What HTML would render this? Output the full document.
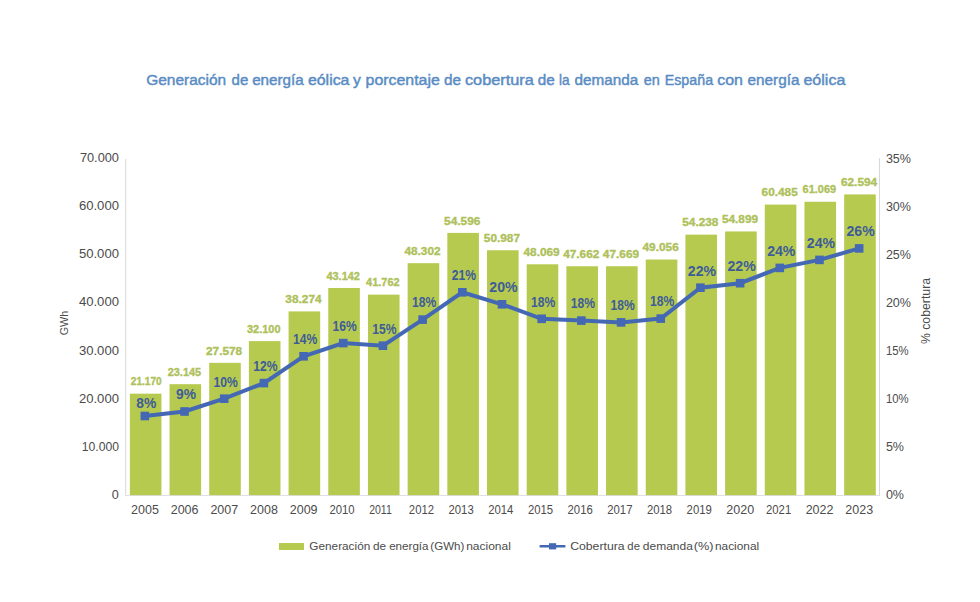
<!DOCTYPE html>
<html><head><meta charset="utf-8"><style>
html,body{margin:0;padding:0;background:#fff;width:980px;height:602px;overflow:hidden}
svg{display:block;font-family:"Liberation Sans", sans-serif}
</style></head><body>
<svg width="980" height="602" viewBox="0 0 980 602">
<rect x="129.84" y="393.67" width="31.60" height="101.83" fill="#b7ca50"/>
<rect x="169.53" y="384.17" width="31.60" height="111.33" fill="#b7ca50"/>
<rect x="209.21" y="362.85" width="31.60" height="132.65" fill="#b7ca50"/>
<rect x="248.89" y="341.10" width="31.60" height="154.40" fill="#b7ca50"/>
<rect x="288.58" y="311.40" width="31.60" height="184.10" fill="#b7ca50"/>
<rect x="328.26" y="287.99" width="31.60" height="207.51" fill="#b7ca50"/>
<rect x="367.95" y="294.62" width="31.60" height="200.88" fill="#b7ca50"/>
<rect x="407.63" y="263.17" width="31.60" height="232.33" fill="#b7ca50"/>
<rect x="447.32" y="232.89" width="31.60" height="262.61" fill="#b7ca50"/>
<rect x="487.00" y="250.25" width="31.60" height="245.25" fill="#b7ca50"/>
<rect x="526.68" y="264.29" width="31.60" height="231.21" fill="#b7ca50"/>
<rect x="566.37" y="266.25" width="31.60" height="229.25" fill="#b7ca50"/>
<rect x="606.05" y="266.21" width="31.60" height="229.29" fill="#b7ca50"/>
<rect x="645.74" y="259.54" width="31.60" height="235.96" fill="#b7ca50"/>
<rect x="685.42" y="234.62" width="31.60" height="260.88" fill="#b7ca50"/>
<rect x="725.11" y="231.44" width="31.60" height="264.06" fill="#b7ca50"/>
<rect x="764.79" y="204.57" width="31.60" height="290.93" fill="#b7ca50"/>
<rect x="804.47" y="201.76" width="31.60" height="293.74" fill="#b7ca50"/>
<rect x="844.16" y="194.42" width="31.60" height="301.08" fill="#b7ca50"/>
<rect x="125.2" y="159" width="1" height="336.5" fill="#d8d8d8"/>
<rect x="879" y="158" width="1" height="337.5" fill="#d8d8d8"/>
<rect x="125.2" y="495" width="754.8" height="1" fill="#d8d8d8" opacity="0.8"/>
<polyline points="144.84,416.00 184.53,411.50 224.21,398.70 263.89,383.10 303.58,356.30 343.26,343.10 382.95,345.70 422.63,319.60 462.32,292.30 502.00,304.30 541.68,318.80 581.37,320.60 621.05,322.40 660.74,318.60 700.42,287.70 740.11,283.20 779.79,267.90 819.47,259.90 859.16,248.40" fill="none" stroke="#4468b4" stroke-width="4" stroke-linejoin="miter"/>
<rect x="140.54" y="411.70" width="8.6" height="8.6" fill="#4468b4"/>
<rect x="180.23" y="407.20" width="8.6" height="8.6" fill="#4468b4"/>
<rect x="219.91" y="394.40" width="8.6" height="8.6" fill="#4468b4"/>
<rect x="259.59" y="378.80" width="8.6" height="8.6" fill="#4468b4"/>
<rect x="299.28" y="352.00" width="8.6" height="8.6" fill="#4468b4"/>
<rect x="338.96" y="338.80" width="8.6" height="8.6" fill="#4468b4"/>
<rect x="378.65" y="341.40" width="8.6" height="8.6" fill="#4468b4"/>
<rect x="418.33" y="315.30" width="8.6" height="8.6" fill="#4468b4"/>
<rect x="458.02" y="288.00" width="8.6" height="8.6" fill="#4468b4"/>
<rect x="497.70" y="300.00" width="8.6" height="8.6" fill="#4468b4"/>
<rect x="537.38" y="314.50" width="8.6" height="8.6" fill="#4468b4"/>
<rect x="577.07" y="316.30" width="8.6" height="8.6" fill="#4468b4"/>
<rect x="616.75" y="318.10" width="8.6" height="8.6" fill="#4468b4"/>
<rect x="656.44" y="314.30" width="8.6" height="8.6" fill="#4468b4"/>
<rect x="696.12" y="283.40" width="8.6" height="8.6" fill="#4468b4"/>
<rect x="735.81" y="278.90" width="8.6" height="8.6" fill="#4468b4"/>
<rect x="775.49" y="263.60" width="8.6" height="8.6" fill="#4468b4"/>
<rect x="815.17" y="255.60" width="8.6" height="8.6" fill="#4468b4"/>
<rect x="854.86" y="244.10" width="8.6" height="8.6" fill="#4468b4"/>
<text x="146.24" y="385.37" text-anchor="middle" font-size="11.4" font-weight="bold" fill="#aec15a" stroke="#aec15a" stroke-width="0.35" textLength="30.8" lengthAdjust="spacingAndGlyphs">21.170</text>
<text x="184.43" y="375.87" text-anchor="middle" font-size="11.4" font-weight="bold" fill="#aec15a" stroke="#aec15a" stroke-width="0.35" textLength="33.5" lengthAdjust="spacingAndGlyphs">23.145</text>
<text x="224.11" y="354.55" text-anchor="middle" font-size="11.4" font-weight="bold" fill="#aec15a" stroke="#aec15a" stroke-width="0.35" textLength="36.2" lengthAdjust="spacingAndGlyphs">27.578</text>
<text x="263.79" y="332.80" text-anchor="middle" font-size="11.4" font-weight="bold" fill="#aec15a" stroke="#aec15a" stroke-width="0.35" textLength="33.5" lengthAdjust="spacingAndGlyphs">32.100</text>
<text x="303.48" y="303.10" text-anchor="middle" font-size="11.4" font-weight="bold" fill="#aec15a" stroke="#aec15a" stroke-width="0.35" textLength="36.2" lengthAdjust="spacingAndGlyphs">38.274</text>
<text x="343.16" y="279.69" text-anchor="middle" font-size="11.4" font-weight="bold" fill="#aec15a" stroke="#aec15a" stroke-width="0.35" textLength="33.5" lengthAdjust="spacingAndGlyphs">43.142</text>
<text x="382.85" y="286.32" text-anchor="middle" font-size="11.4" font-weight="bold" fill="#aec15a" stroke="#aec15a" stroke-width="0.35" textLength="33.5" lengthAdjust="spacingAndGlyphs">41.762</text>
<text x="422.53" y="254.87" text-anchor="middle" font-size="11.4" font-weight="bold" fill="#aec15a" stroke="#aec15a" stroke-width="0.35" textLength="36.2" lengthAdjust="spacingAndGlyphs">48.302</text>
<text x="462.22" y="224.59" text-anchor="middle" font-size="11.4" font-weight="bold" fill="#aec15a" stroke="#aec15a" stroke-width="0.35" textLength="36.2" lengthAdjust="spacingAndGlyphs">54.596</text>
<text x="501.90" y="241.95" text-anchor="middle" font-size="11.4" font-weight="bold" fill="#aec15a" stroke="#aec15a" stroke-width="0.35" textLength="36.2" lengthAdjust="spacingAndGlyphs">50.987</text>
<text x="541.58" y="255.99" text-anchor="middle" font-size="11.4" font-weight="bold" fill="#aec15a" stroke="#aec15a" stroke-width="0.35" textLength="36.2" lengthAdjust="spacingAndGlyphs">48.069</text>
<text x="581.27" y="257.95" text-anchor="middle" font-size="11.4" font-weight="bold" fill="#aec15a" stroke="#aec15a" stroke-width="0.35" textLength="36.2" lengthAdjust="spacingAndGlyphs">47.662</text>
<text x="620.95" y="257.91" text-anchor="middle" font-size="11.4" font-weight="bold" fill="#aec15a" stroke="#aec15a" stroke-width="0.35" textLength="36.2" lengthAdjust="spacingAndGlyphs">47.669</text>
<text x="660.64" y="251.24" text-anchor="middle" font-size="11.4" font-weight="bold" fill="#aec15a" stroke="#aec15a" stroke-width="0.35" textLength="36.2" lengthAdjust="spacingAndGlyphs">49.056</text>
<text x="700.32" y="226.32" text-anchor="middle" font-size="11.4" font-weight="bold" fill="#aec15a" stroke="#aec15a" stroke-width="0.35" textLength="36.2" lengthAdjust="spacingAndGlyphs">54.238</text>
<text x="740.01" y="223.14" text-anchor="middle" font-size="11.4" font-weight="bold" fill="#aec15a" stroke="#aec15a" stroke-width="0.35" textLength="36.2" lengthAdjust="spacingAndGlyphs">54.899</text>
<text x="779.69" y="196.27" text-anchor="middle" font-size="11.4" font-weight="bold" fill="#aec15a" stroke="#aec15a" stroke-width="0.35" textLength="36.2" lengthAdjust="spacingAndGlyphs">60.485</text>
<text x="819.37" y="193.46" text-anchor="middle" font-size="11.4" font-weight="bold" fill="#aec15a" stroke="#aec15a" stroke-width="0.35" textLength="33.5" lengthAdjust="spacingAndGlyphs">61.069</text>
<text x="859.06" y="186.12" text-anchor="middle" font-size="11.4" font-weight="bold" fill="#aec15a" stroke="#aec15a" stroke-width="0.35" textLength="36.2" lengthAdjust="spacingAndGlyphs">62.594</text>
<text x="146.34" y="407.90" text-anchor="middle" font-size="14.3" font-weight="bold" fill="#3d5c98" textLength="20.0" lengthAdjust="spacingAndGlyphs">8%</text>
<text x="186.03" y="399.30" text-anchor="middle" font-size="14.3" font-weight="bold" fill="#3d5c98" textLength="20.0" lengthAdjust="spacingAndGlyphs">9%</text>
<text x="225.71" y="386.50" text-anchor="middle" font-size="14.3" font-weight="bold" fill="#3d5c98" textLength="24.3" lengthAdjust="spacingAndGlyphs">10%</text>
<text x="265.39" y="370.90" text-anchor="middle" font-size="14.3" font-weight="bold" fill="#3d5c98" textLength="24.3" lengthAdjust="spacingAndGlyphs">12%</text>
<text x="305.08" y="344.10" text-anchor="middle" font-size="14.3" font-weight="bold" fill="#3d5c98" textLength="24.3" lengthAdjust="spacingAndGlyphs">14%</text>
<text x="344.76" y="330.90" text-anchor="middle" font-size="14.3" font-weight="bold" fill="#3d5c98" textLength="24.3" lengthAdjust="spacingAndGlyphs">16%</text>
<text x="384.45" y="333.50" text-anchor="middle" font-size="14.3" font-weight="bold" fill="#3d5c98" textLength="24.3" lengthAdjust="spacingAndGlyphs">15%</text>
<text x="424.13" y="307.40" text-anchor="middle" font-size="14.3" font-weight="bold" fill="#3d5c98" textLength="24.3" lengthAdjust="spacingAndGlyphs">18%</text>
<text x="463.82" y="280.10" text-anchor="middle" font-size="14.3" font-weight="bold" fill="#3d5c98" textLength="24.3" lengthAdjust="spacingAndGlyphs">21%</text>
<text x="503.50" y="292.10" text-anchor="middle" font-size="14.3" font-weight="bold" fill="#3d5c98" textLength="28.3" lengthAdjust="spacingAndGlyphs">20%</text>
<text x="543.18" y="306.60" text-anchor="middle" font-size="14.3" font-weight="bold" fill="#3d5c98" textLength="24.3" lengthAdjust="spacingAndGlyphs">18%</text>
<text x="582.87" y="308.40" text-anchor="middle" font-size="14.3" font-weight="bold" fill="#3d5c98" textLength="24.3" lengthAdjust="spacingAndGlyphs">18%</text>
<text x="622.55" y="310.20" text-anchor="middle" font-size="14.3" font-weight="bold" fill="#3d5c98" textLength="24.3" lengthAdjust="spacingAndGlyphs">18%</text>
<text x="662.24" y="306.40" text-anchor="middle" font-size="14.3" font-weight="bold" fill="#3d5c98" textLength="24.3" lengthAdjust="spacingAndGlyphs">18%</text>
<text x="701.92" y="275.50" text-anchor="middle" font-size="14.3" font-weight="bold" fill="#3d5c98" textLength="28.3" lengthAdjust="spacingAndGlyphs">22%</text>
<text x="741.61" y="271.00" text-anchor="middle" font-size="14.3" font-weight="bold" fill="#3d5c98" textLength="28.3" lengthAdjust="spacingAndGlyphs">22%</text>
<text x="781.29" y="255.70" text-anchor="middle" font-size="14.3" font-weight="bold" fill="#3d5c98" textLength="28.3" lengthAdjust="spacingAndGlyphs">24%</text>
<text x="820.97" y="247.70" text-anchor="middle" font-size="14.3" font-weight="bold" fill="#3d5c98" textLength="28.3" lengthAdjust="spacingAndGlyphs">24%</text>
<text x="860.66" y="236.20" text-anchor="middle" font-size="14.3" font-weight="bold" fill="#3d5c98" textLength="28.3" lengthAdjust="spacingAndGlyphs">26%</text>
<text x="118.8" y="498.80" text-anchor="end" font-size="12.6" fill="#4b4b4b">0</text>
<text x="119.0" y="450.70" text-anchor="end" font-size="12.3" fill="#4b4b4b" textLength="37.3" lengthAdjust="spacingAndGlyphs">10.000</text>
<text x="119.0" y="402.60" text-anchor="end" font-size="12.3" fill="#4b4b4b" textLength="40.1" lengthAdjust="spacingAndGlyphs">20.000</text>
<text x="119.0" y="354.50" text-anchor="end" font-size="12.3" fill="#4b4b4b" textLength="40.1" lengthAdjust="spacingAndGlyphs">30.000</text>
<text x="119.0" y="306.40" text-anchor="end" font-size="12.3" fill="#4b4b4b" textLength="40.1" lengthAdjust="spacingAndGlyphs">40.000</text>
<text x="119.0" y="258.30" text-anchor="end" font-size="12.3" fill="#4b4b4b" textLength="40.1" lengthAdjust="spacingAndGlyphs">50.000</text>
<text x="119.0" y="210.20" text-anchor="end" font-size="12.3" fill="#4b4b4b" textLength="40.1" lengthAdjust="spacingAndGlyphs">60.000</text>
<text x="119.0" y="162.10" text-anchor="end" font-size="12.3" fill="#4b4b4b" textLength="39.1" lengthAdjust="spacingAndGlyphs">70.000</text>
<text x="885.9" y="498.90" font-size="12.3" fill="#4b4b4b" textLength="18.1" lengthAdjust="spacingAndGlyphs">0%</text>
<text x="885.9" y="450.90" font-size="12.3" fill="#4b4b4b" textLength="18.1" lengthAdjust="spacingAndGlyphs">5%</text>
<text x="885.9" y="402.90" font-size="12.3" fill="#4b4b4b" textLength="22.7" lengthAdjust="spacingAndGlyphs">10%</text>
<text x="885.9" y="354.90" font-size="12.3" fill="#4b4b4b" textLength="22.7" lengthAdjust="spacingAndGlyphs">15%</text>
<text x="885.9" y="306.90" font-size="12.3" fill="#4b4b4b" textLength="25.1" lengthAdjust="spacingAndGlyphs">20%</text>
<text x="885.9" y="258.90" font-size="12.3" fill="#4b4b4b" textLength="25.1" lengthAdjust="spacingAndGlyphs">25%</text>
<text x="885.9" y="210.90" font-size="12.3" fill="#4b4b4b" textLength="25.1" lengthAdjust="spacingAndGlyphs">30%</text>
<text x="885.9" y="162.90" font-size="12.3" fill="#4b4b4b" textLength="25.1" lengthAdjust="spacingAndGlyphs">35%</text>
<text x="144.94" y="514.2" text-anchor="middle" font-size="13.0" fill="#4b4b4b" textLength="27.8" lengthAdjust="spacingAndGlyphs">2005</text>
<text x="184.63" y="514.2" text-anchor="middle" font-size="13.0" fill="#4b4b4b" textLength="27.8" lengthAdjust="spacingAndGlyphs">2006</text>
<text x="224.31" y="514.2" text-anchor="middle" font-size="13.0" fill="#4b4b4b" textLength="27.8" lengthAdjust="spacingAndGlyphs">2007</text>
<text x="263.99" y="514.2" text-anchor="middle" font-size="13.0" fill="#4b4b4b" textLength="27.8" lengthAdjust="spacingAndGlyphs">2008</text>
<text x="303.68" y="514.2" text-anchor="middle" font-size="13.0" fill="#4b4b4b" textLength="27.8" lengthAdjust="spacingAndGlyphs">2009</text>
<text x="342.06" y="514.2" text-anchor="middle" font-size="13.0" fill="#4b4b4b" textLength="25.2" lengthAdjust="spacingAndGlyphs">2010</text>
<text x="380.45" y="514.2" text-anchor="middle" font-size="13.0" fill="#4b4b4b" textLength="22.6" lengthAdjust="spacingAndGlyphs">2011</text>
<text x="421.43" y="514.2" text-anchor="middle" font-size="13.0" fill="#4b4b4b" textLength="25.2" lengthAdjust="spacingAndGlyphs">2012</text>
<text x="461.12" y="514.2" text-anchor="middle" font-size="13.0" fill="#4b4b4b" textLength="25.2" lengthAdjust="spacingAndGlyphs">2013</text>
<text x="500.80" y="514.2" text-anchor="middle" font-size="13.0" fill="#4b4b4b" textLength="25.2" lengthAdjust="spacingAndGlyphs">2014</text>
<text x="540.48" y="514.2" text-anchor="middle" font-size="13.0" fill="#4b4b4b" textLength="25.2" lengthAdjust="spacingAndGlyphs">2015</text>
<text x="580.17" y="514.2" text-anchor="middle" font-size="13.0" fill="#4b4b4b" textLength="25.2" lengthAdjust="spacingAndGlyphs">2016</text>
<text x="619.85" y="514.2" text-anchor="middle" font-size="13.0" fill="#4b4b4b" textLength="25.2" lengthAdjust="spacingAndGlyphs">2017</text>
<text x="659.54" y="514.2" text-anchor="middle" font-size="13.0" fill="#4b4b4b" textLength="25.2" lengthAdjust="spacingAndGlyphs">2018</text>
<text x="699.22" y="514.2" text-anchor="middle" font-size="13.0" fill="#4b4b4b" textLength="25.2" lengthAdjust="spacingAndGlyphs">2019</text>
<text x="740.21" y="514.2" text-anchor="middle" font-size="13.0" fill="#4b4b4b" textLength="27.8" lengthAdjust="spacingAndGlyphs">2020</text>
<text x="778.59" y="514.2" text-anchor="middle" font-size="13.0" fill="#4b4b4b" textLength="25.2" lengthAdjust="spacingAndGlyphs">2021</text>
<text x="819.57" y="514.2" text-anchor="middle" font-size="13.0" fill="#4b4b4b" textLength="27.8" lengthAdjust="spacingAndGlyphs">2022</text>
<text x="859.26" y="514.2" text-anchor="middle" font-size="13.0" fill="#4b4b4b" textLength="27.8" lengthAdjust="spacingAndGlyphs">2023</text>
<text transform="translate(68.3,323) rotate(-90)" text-anchor="middle" font-size="11.5" fill="#4b4b4b" textLength="24.6" lengthAdjust="spacingAndGlyphs">GWh</text>
<text transform="translate(930.0,311) rotate(-90)" text-anchor="middle" font-size="13.6" fill="#4b4b4b" textLength="66.2" lengthAdjust="spacingAndGlyphs">% cobertura</text>
<text x="146.15" y="84.8" font-size="15.2" fill="#5a8cc3" stroke="#5a8cc3" stroke-width="0.45" textLength="80.1" lengthAdjust="spacingAndGlyphs">Generación</text>
<text x="231.55" y="84.8" font-size="15.2" fill="#5a8cc3" stroke="#5a8cc3" stroke-width="0.45" textLength="16.7" lengthAdjust="spacingAndGlyphs">de</text>
<text x="252.15" y="84.8" font-size="15.2" fill="#5a8cc3" stroke="#5a8cc3" stroke-width="0.45" textLength="51.6" lengthAdjust="spacingAndGlyphs">energía</text>
<text x="307.95" y="84.8" font-size="15.2" fill="#5a8cc3" stroke="#5a8cc3" stroke-width="0.45" textLength="41.5" lengthAdjust="spacingAndGlyphs">eólica</text>
<text x="353.05" y="84.8" font-size="15.2" fill="#5a8cc3" stroke="#5a8cc3" stroke-width="0.45" textLength="7.8" lengthAdjust="spacingAndGlyphs">y</text>
<text x="365.55" y="84.8" font-size="15.2" fill="#5a8cc3" stroke="#5a8cc3" stroke-width="0.45" textLength="74.3" lengthAdjust="spacingAndGlyphs">porcentaje</text>
<text x="443.95" y="84.8" font-size="15.2" fill="#5a8cc3" stroke="#5a8cc3" stroke-width="0.45" textLength="17.0" lengthAdjust="spacingAndGlyphs">de</text>
<text x="464.95" y="84.8" font-size="15.2" fill="#5a8cc3" stroke="#5a8cc3" stroke-width="0.45" textLength="68.8" lengthAdjust="spacingAndGlyphs">cobertura</text>
<text x="537.85" y="84.8" font-size="15.2" fill="#5a8cc3" stroke="#5a8cc3" stroke-width="0.45" textLength="17.0" lengthAdjust="spacingAndGlyphs">de</text>
<text x="558.95" y="84.8" font-size="15.2" fill="#5a8cc3" stroke="#5a8cc3" stroke-width="0.45" textLength="10.6" lengthAdjust="spacingAndGlyphs">la</text>
<text x="574.55" y="84.8" font-size="15.2" fill="#5a8cc3" stroke="#5a8cc3" stroke-width="0.45" textLength="63.7" lengthAdjust="spacingAndGlyphs">demanda</text>
<text x="643.65" y="84.8" font-size="15.2" fill="#5a8cc3" stroke="#5a8cc3" stroke-width="0.45" textLength="16.1" lengthAdjust="spacingAndGlyphs">en</text>
<text x="664.75" y="84.8" font-size="15.2" fill="#5a8cc3" stroke="#5a8cc3" stroke-width="0.45" textLength="48.3" lengthAdjust="spacingAndGlyphs">España</text>
<text x="717.15" y="84.8" font-size="15.2" fill="#5a8cc3" stroke="#5a8cc3" stroke-width="0.45" textLength="25.8" lengthAdjust="spacingAndGlyphs">con</text>
<text x="747.55" y="84.8" font-size="15.2" fill="#5a8cc3" stroke="#5a8cc3" stroke-width="0.45" textLength="51.9" lengthAdjust="spacingAndGlyphs">energía</text>
<text x="803.45" y="84.8" font-size="15.2" fill="#5a8cc3" stroke="#5a8cc3" stroke-width="0.45" textLength="41.9" lengthAdjust="spacingAndGlyphs">eólica</text>
<rect x="279" y="543" width="25" height="7" fill="#b7ca50"/>
<rect x="539.6" y="545" width="25.8" height="2.5" fill="#4468b4"/>
<rect x="549" y="543.2" width="7.2" height="6.2" fill="#4468b4"/>
<text x="309.35" y="549.6" font-size="10.6" fill="#4b4b4b" textLength="60.9" lengthAdjust="spacingAndGlyphs">Generación</text>
<text x="373.05" y="549.6" font-size="10.6" fill="#4b4b4b" textLength="13.1" lengthAdjust="spacingAndGlyphs">de</text>
<text x="389.15" y="549.6" font-size="10.6" fill="#4b4b4b" textLength="39.4" lengthAdjust="spacingAndGlyphs">energía</text>
<text x="430.35" y="549.6" font-size="10.6" fill="#4b4b4b" textLength="34.0" lengthAdjust="spacingAndGlyphs">(GWh)</text>
<text x="466.15" y="549.6" font-size="10.6" fill="#4b4b4b" textLength="44.7" lengthAdjust="spacingAndGlyphs">nacional</text>
<text x="570.15" y="549.6" font-size="10.6" fill="#4b4b4b" textLength="54.5" lengthAdjust="spacingAndGlyphs">Cobertura</text>
<text x="627.35" y="549.6" font-size="10.6" fill="#4b4b4b" textLength="12.6" lengthAdjust="spacingAndGlyphs">de</text>
<text x="642.85" y="549.6" font-size="10.6" fill="#4b4b4b" textLength="50.0" lengthAdjust="spacingAndGlyphs">demanda</text>
<text x="693.65" y="549.6" font-size="10.6" fill="#4b4b4b" textLength="19.8" lengthAdjust="spacingAndGlyphs">(%)</text>
<text x="714.95" y="549.6" font-size="10.6" fill="#4b4b4b" textLength="44.2" lengthAdjust="spacingAndGlyphs">nacional</text>
</svg>
</body></html>
